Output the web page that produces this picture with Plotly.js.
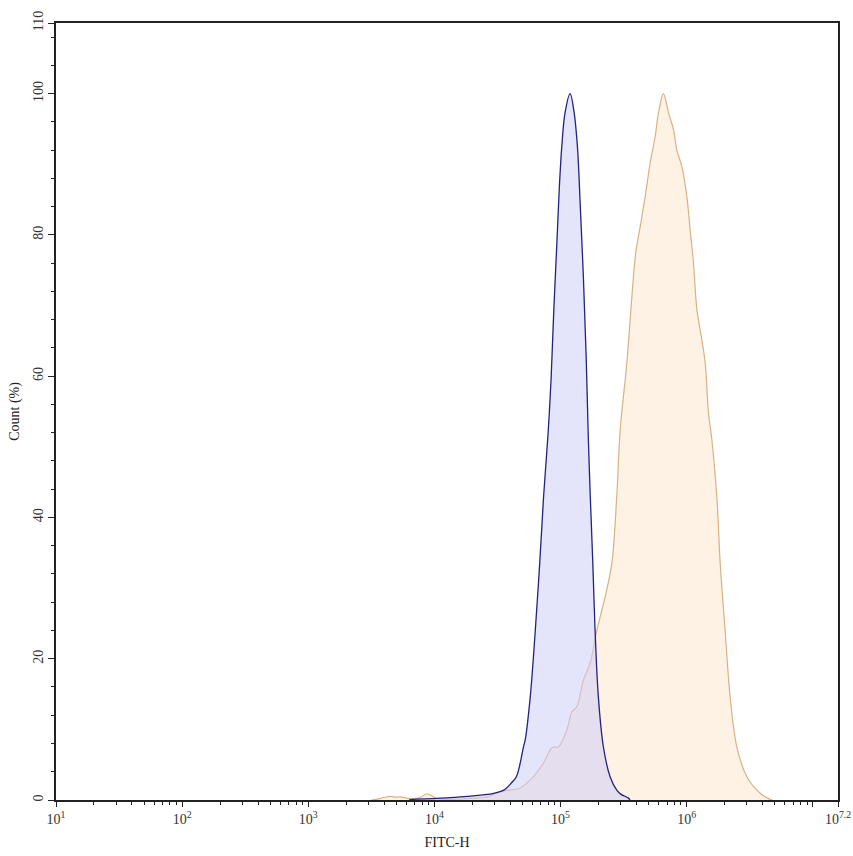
<!DOCTYPE html>
<html>
<head>
<meta charset="utf-8">
<script src="https://cdn.plot.ly/plotly-3.0.1.min.js"></script>
<style>html,body{margin:0;padding:0;background:#fff;}#chart{width:853px;height:856px;}</style>
</head>
<body>
<div id="chart"></div>
<script>
// FITC-H values stored as log10 exponents (the axis is logarithmic)
const blueLogX = [3.80,3.83,3.99,4.10,4.26,4.47,4.55,4.61,4.65,4.68,4.706,4.72,4.76,4.80,4.835,4.866,4.900,4.925,4.946,4.970,4.990,5.010,5.036,5.076,5.108,5.134,5.157,5.182,5.203,5.220,5.236,5.256,5.274,5.300,5.340,5.393,5.446,5.480,5.536,5.552];
const blueCount = [0,0.1,0.2,0.3,0.5,0.95,1.4,2.4,3.3,5.2,7.5,8.5,14.6,24,33.5,43,51.5,59.5,69,78.4,86.5,92.5,97.3,100,97.3,92.5,84,73.7,63,51.5,43,33.5,24,14.6,7.5,3.3,1.4,0.8,0.3,0];

const orangeLogX = [3.50,3.543,3.60,3.649,3.70,3.728,3.807,3.88,3.94,3.98,4.019,4.125,4.25,4.35,4.416,4.47,4.521,4.600,4.680,4.733,4.785,4.864,4.918,4.944,4.983,5.050,5.090,5.129,5.182,5.235,5.288,5.354,5.407,5.446,5.473,5.526,5.566,5.596,5.632,5.672,5.711,5.751,5.777,5.816,5.856,5.896,5.922,5.962,6.001,6.028,6.054,6.081,6.120,6.147,6.173,6.200,6.239,6.266,6.305,6.345,6.398,6.477,6.583,6.649,6.68];
const orangeCount = [0,0.1,0.35,0.5,0.4,0.45,0.2,0.3,0.85,0.6,0.2,0.1,0.2,0.3,0.4,0.8,1.2,1.4,1.7,2.4,3.3,5.2,7.1,7.5,7.5,9.9,12.5,13.2,17,19.4,24,28.8,33.5,43,52.4,61.9,71.3,77.4,81.2,85.5,90.2,94,97.3,100,97.3,94.9,92,89.7,85.5,80.7,76,69.5,65.2,61.9,54.8,51,43,33.5,24,14.6,7.5,3.3,0.95,0.2,0];

const xTickVals = [1,2,3,4,5,6,7,7.2];
const xTickText = ['10<sup>1</sup>','10<sup>2</sup>','10<sup>3</sup>','10<sup>4</sup>','10<sup>5</sup>','10<sup>6</sup>','','10<sup>7.2</sup>'];
const yTickVals = [0,20,40,60,80,100,110];

// minor log ticks (2..9 within each decade)
const xMinor = [];
for (let d = 1; d <= 7; d++) {
  for (let k = 2; k <= 9; k++) {
    const v = d + Math.log10(k);
    if (v < 7.2) xMinor.push(v);
  }
}

const traces = [
  {
    x: orangeLogX, y: orangeCount, type: 'scatter', mode: 'lines',
    line: {color: '#d9b184', width: 1.2, shape: 'spline', smoothing: 1},
    fill: 'tozeroy', fillcolor: 'rgba(253,238,220,0.75)', hoverinfo: 'skip'
  },
  {
    x: blueLogX, y: blueCount, type: 'scatter', mode: 'lines',
    line: {color: '#23237e', width: 1.3, shape: 'spline', smoothing: 1},
    fill: 'tozeroy', fillcolor: 'rgba(205,205,245,0.55)', hoverinfo: 'skip'
  }
];

const serif = 'Liberation Serif, Times New Roman, serif';
const tickFont = {family: serif, size: 14, color: '#333'};

const layout = {
  width: 853, height: 856,
  margin: {l: 56, r: 15, t: 23, b: 56},
  paper_bgcolor: '#fff', plot_bgcolor: '#fff',
  showlegend: false,
  font: tickFont,
  xaxis: {
    type: 'linear', range: [1, 7.2], autorange: false,
    tickmode: 'array', tickvals: xTickVals, ticktext: xTickText,
    ticks: 'outside', ticklen: 5, tickwidth: 1, tickcolor: '#222',
    showgrid: false, zeroline: false,
    showline: true, linecolor: '#222', linewidth: 1.5, mirror: true,
    tickfont: tickFont,
    minor: {tickmode: 'array', tickvals: xMinor, ticks: 'outside', ticklen: 3, tickcolor: '#222', showgrid: false},
    title: {text: 'FITC-H', font: {family: serif, size: 14, color: '#222'}, standoff: 12}
  },
  yaxis: {
    range: [0, 110], autorange: false,
    tickmode: 'array', tickvals: yTickVals,
    tickangle: -90,
    ticks: 'outside', ticklen: 6, tickwidth: 1, tickcolor: '#222',
    showgrid: false, zeroline: false,
    showline: true, linecolor: '#222', linewidth: 1.5, mirror: true,
    tickfont: tickFont,
    minor: {dtick: 4, tick0: 0, ticks: 'outside', ticklen: 3, tickcolor: '#222', showgrid: false},
    title: {text: 'Count (%)', font: {family: serif, size: 14, color: '#222'}, standoff: 8}
  }
};

Plotly.newPlot('chart', traces, layout, {displayModeBar: false});
</script>
</body>
</html>
